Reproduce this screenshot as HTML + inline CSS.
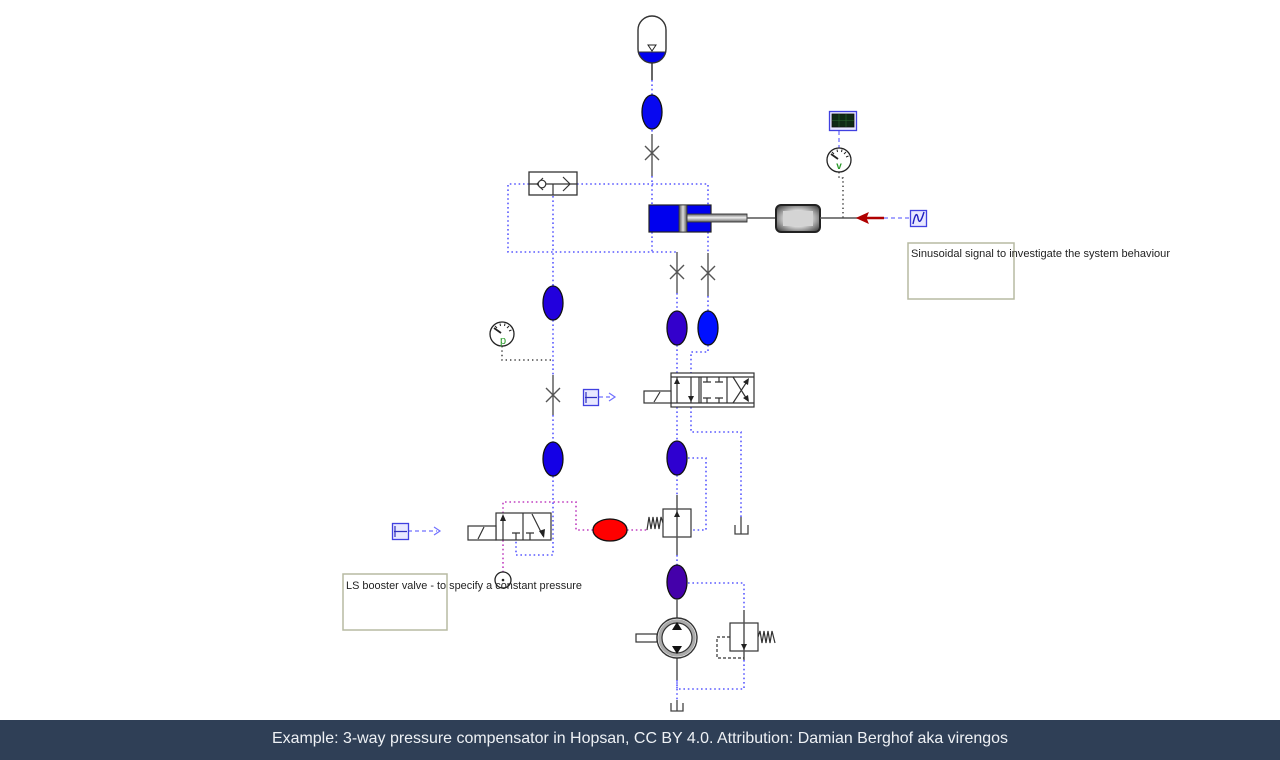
<!DOCTYPE html>
<html><head><meta charset="utf-8"><style>
html,body{margin:0;padding:0;background:#fff;width:1280px;height:760px;overflow:hidden}
svg{display:block}
.footer{position:absolute;left:0;top:720px;width:1280px;height:40px;background:#2f3f56;}
</style></head><body>
<svg width="1280" height="720" viewBox="0 0 1280 720" xmlns="http://www.w3.org/2000/svg" style="position:absolute;left:0;top:0">
<defs>
<linearGradient id="gv" x1="0" y1="0" x2="1" y2="0">
<stop offset="0" stop-color="#555"/><stop offset="0.5" stop-color="#ddd"/><stop offset="1" stop-color="#555"/></linearGradient>
<linearGradient id="gh" x1="0" y1="0" x2="0" y2="1">
<stop offset="0" stop-color="#666"/><stop offset="0.45" stop-color="#eee"/><stop offset="1" stop-color="#666"/></linearGradient>
<radialGradient id="gm" cx="0.5" cy="0.5" r="0.6">
<stop offset="0.5" stop-color="#d8d8d8"/><stop offset="1" stop-color="#555"/></radialGradient>
<clipPath id="acc"><rect x="638" y="16" width="28" height="47" rx="14"/></clipPath>
</defs>
<g fill="none" stroke="#5a5aff" stroke-width="1.6" stroke-dasharray="1.6 2.8">
<!-- top chain -->
<path d="M652 80V95"/>
<path d="M652 130V134"/>
<path d="M652 176V205"/>
<!-- loop -->
<path d="M529 184H508V252H677"/>
<path d="M577 184H708V205"/>
<path d="M652 232V252"/>
<path d="M708 232V252"/>
<path d="M553 196V286"/>
<path d="M553 320V375"/>
<path d="M553 415V442"/>
<path d="M553 476V555H516V535"/>
<!-- right branch -->
<path d="M677 293V311"/>
<path d="M708 296V311"/>
<path d="M677 345V373"/>
<path d="M708 345V352H691V373"/>
<path d="M677 407V441"/>
<path d="M691 407V432H741V517"/>
<path d="M677 475V495"/>
<path d="M688 458H706V530H691"/>
<path d="M677 555V565"/>
<path d="M688 583H744V610"/>
<path d="M744 660V689H677V680"/>
<path d="M677 680V700"/>
</g>
<g fill="none" stroke="#c040c0" stroke-width="1.6" stroke-dasharray="1.6 2.8">
<path d="M627 530H647"/>
<path d="M593 530H576V502H503V513"/>
<path d="M503 540V572"/>
</g>
<g fill="none" stroke="#444" stroke-width="1.5" stroke-dasharray="1.4 3">
<path d="M502 346V360H553"/>
<path d="M839 172V178H843V218"/>
</g>
<!-- signal dashed -->
<g fill="none" stroke="#7070ff" stroke-width="1.3" stroke-dasharray="4 3">
<path d="M839 131V148"/>
<path d="M884 218H910"/>
<path d="M599 397H612"/>
<path d="M408 531H437"/>
</g>
<g fill="none" stroke="#7070ff" stroke-width="1.2">
<path d="M609 393L615 397L609 401"/>
<path d="M434 527L440 531L434 535"/>
</g>

<!-- accumulator -->
<g clip-path="url(#acc)"><rect x="636" y="52" width="32" height="14" fill="#0000ee"/></g>
<rect x="638" y="16" width="28" height="47" rx="14" fill="none" stroke="#333" stroke-width="1.4"/>
<line x1="638" y1="52" x2="666" y2="52" stroke="#333" stroke-width="1"/>
<path d="M648 45H656L652 51Z" fill="#fff" stroke="#222" stroke-width="1"/>
<line x1="652" y1="63" x2="652" y2="80" stroke="#333" stroke-width="1.5"/>

<!-- ellipses (volumes) -->
<g stroke="#111" stroke-width="1.3">
<ellipse cx="652" cy="112" rx="10" ry="17" fill="#0808f0"/>
<ellipse cx="553" cy="303" rx="10" ry="17" fill="#2200dd"/>
<ellipse cx="553" cy="459" rx="10" ry="17" fill="#1400e6"/>
<ellipse cx="677" cy="328" rx="10" ry="17" fill="#3300cc"/>
<ellipse cx="708" cy="328" rx="10" ry="17" fill="#0010ff"/>
<ellipse cx="677" cy="458" rx="10" ry="17" fill="#2e00d0"/>
<ellipse cx="677" cy="582" rx="10" ry="17" fill="#4400aa"/>
<ellipse cx="610" cy="530" rx="17" ry="11" fill="#ff0000"/>
</g>

<!-- orifices (X) -->
<g stroke="#555" stroke-width="1.4" fill="none">
<path d="M652 134V176M645 146L659 160M659 146L645 160"/>
<path d="M677 252V293M670 265L684 279M684 265L670 279"/>
<path d="M708 253V296M701 266L715 280M715 266L701 280"/>
<path d="M553 375V415M546 388L560 402M560 388L546 402"/>
</g>

<!-- check valve -->
<rect x="529" y="172" width="48" height="23" fill="#fff" stroke="#333" stroke-width="1.3"/>
<g stroke="#333" stroke-width="1.2" fill="none">
<path d="M529 184H577"/>
<path d="M553 184V195"/>
<path d="M543 178L537 184L543 190"/>
<path d="M563 177L570 184L563 191"/>
</g>
<circle cx="542" cy="184" r="3.8" fill="#fff" stroke="#333" stroke-width="1.2"/>

<!-- cylinder -->
<rect x="649" y="205" width="62" height="27" fill="#0000ee" stroke="#222" stroke-width="1.2"/>
<rect x="679" y="205" width="8" height="27" fill="url(#gv)" stroke="#333" stroke-width="0.8"/>
<rect x="687" y="214" width="60" height="8" fill="url(#gh)" stroke="#333" stroke-width="0.9"/>
<line x1="747" y1="218" x2="776" y2="218" stroke="#555" stroke-width="1.4"/>
<!-- mass -->
<rect x="776" y="205" width="44" height="27" rx="5" fill="url(#gm)" stroke="#222" stroke-width="2"/>
<rect x="783" y="211" width="30" height="15" fill="#d4d4d4" stroke="none"/>
<line x1="820" y1="218" x2="858" y2="218" stroke="#555" stroke-width="1.4"/>
<!-- red arrow -->
<line x1="862" y1="218" x2="884" y2="218" stroke="#b00000" stroke-width="2.4"/>
<path d="M857 218L868 213L866 218L868 223Z" fill="#b00000" stroke="#b00000"/>
<!-- sine source -->
<rect x="910.5" y="210.5" width="16" height="16" fill="#e8e8ff" stroke="#4040e0" stroke-width="1.3"/>
<path d="M913 224C915 214 917 212 918 218C919 224 921 222 924 212" fill="none" stroke="#2020c0" stroke-width="1.4"/>
<!-- scope -->
<rect x="829.5" y="111.5" width="27" height="19" fill="#e8e8ff" stroke="#4040e0" stroke-width="1.3"/>
<rect x="832" y="114" width="22" height="13" fill="#0f2a14" stroke="#111" stroke-width="0.8"/>
<path d="M832 120.5H854M839 114V127M846 114V127" stroke="#2c6a30" stroke-width="0.6"/>
<!-- gauge V -->
<circle cx="839" cy="160" r="12" fill="#fff" stroke="#222" stroke-width="1.3"/>
<g stroke="#222" stroke-width="1"><path d="M832 152L834 154M837 149.5L837.5 152M842 149.5L841.5 152M846 152L844 154M848.5 156L846 157"/></g>
<path d="M831 154L838 159" stroke="#222" stroke-width="1.8"/>
<text x="839" y="169" font-family="Liberation Sans, sans-serif" font-size="10" font-weight="bold" fill="#2a9a2a" text-anchor="middle">v</text>
<!-- gauge P -->
<circle cx="502" cy="334" r="12" fill="#fff" stroke="#222" stroke-width="1.3"/>
<g stroke="#222" stroke-width="1"><path d="M495 326L497 328M500 323.5L500.5 326M505 323.5L504.5 326M509 326L507 328M511.5 330L509 331"/></g>
<path d="M494 328L501 333" stroke="#222" stroke-width="1.8"/>
<text x="503" y="344" font-family="Liberation Sans, sans-serif" font-size="11" fill="#2a9a2a" text-anchor="middle">p</text>

<!-- step source sources -->
<rect x="583.5" y="389.5" width="15" height="16" fill="#e8e8ff" stroke="#4040e0" stroke-width="1.3"/>
<path d="M585 397.5H597M586 392V403" stroke="#3030c0" stroke-width="1.2"/>
<rect x="392.5" y="523.5" width="16" height="16" fill="#e8e8ff" stroke="#4040e0" stroke-width="1.3"/>
<path d="M394 531.5H407M395 526V537" stroke="#3030c0" stroke-width="1.2"/>

<!-- 4/3 valve -->
<g stroke="#333" stroke-width="1.2" fill="none">
<rect x="671" y="373" width="83" height="34" fill="#fff"/>
<path d="M671 377H754M671 403H754"/>
<path d="M699 377V403M701 377V403M727 377V403"/>
<path d="M677 377V403M691 377V403"/>
<path d="M707 377V382M703 382H711M719 377V382M715 382H723"/>
<path d="M707 403V398M703 398H711M719 403V398M715 398H723"/>
<path d="M733 403L748 380M733 377L748 401"/>
<rect x="644" y="391" width="27" height="12" fill="#fff"/>
<path d="M654 402L660 392"/>
</g>
<g fill="#222">
<path d="M677 378L674 384H680Z"/>
<path d="M691 402L688 396H694Z"/>
<path d="M749 378L743 382L748 385Z"/>
<path d="M749 402L743 398L748 395Z"/>
</g>

<!-- LS valve -->
<g stroke="#333" stroke-width="1.2" fill="none">
<rect x="496" y="513" width="55" height="27" fill="#fff"/>
<path d="M523 513V540"/>
<path d="M503 540V516"/>
<path d="M516 540V533M512 533H520M530 540V533M526 533H534"/>
<path d="M532 514L543 536"/>
<rect x="468" y="526" width="28" height="14" fill="#fff"/>
<path d="M478 539L484 527"/>
</g>
<g fill="#222">
<path d="M503 514L500 521H506Z"/>
<path d="M544 538L539 531L545 529Z"/>
</g>
<circle cx="503" cy="580" r="8" fill="none" stroke="#222" stroke-width="1.3"/>
<circle cx="503" cy="580" r="1.3" fill="#222"/>

<!-- pressure compensator -->
<g stroke="#333" stroke-width="1.2" fill="none">
<rect x="663" y="509" width="28" height="28" fill="#fff"/>
<path d="M677 495V555" stroke="#555" stroke-width="1.5"/>
<path d="M647 530L649 517L651 529L653 517L655 529L657 517L659 529L661 517L663 523"/>
</g>
<path d="M677 511L674 517H680Z" fill="#222"/>

<!-- tank right -->
<g stroke="#444" stroke-width="1.3" fill="none">
<path d="M741 517V534M735 525V534H748V525"/>
<path d="M677 700V711M671 703V711H683V703"/>
</g>

<!-- pump -->
<line x1="677" y1="599" x2="677" y2="618" stroke="#555" stroke-width="1.5"/>
<line x1="677" y1="658" x2="677" y2="680" stroke="#555" stroke-width="1.5"/>
<rect x="636" y="634" width="21" height="8" fill="#fff" stroke="#333" stroke-width="1.2"/>
<circle cx="677" cy="638" r="20" fill="#fff" stroke="#333" stroke-width="1.4"/>
<circle cx="677" cy="638" r="17" fill="none" stroke="#aaa" stroke-width="3.5"/>
<circle cx="677" cy="638" r="15" fill="#fff" stroke="#333" stroke-width="1.2"/>
<path d="M677 622L672 630H682Z" fill="#111"/>
<path d="M677 654L672 646H682Z" fill="#111"/>

<!-- relief valve -->
<g stroke="#333" stroke-width="1.2" fill="none">
<rect x="730" y="623" width="28" height="28" fill="#fff"/>
<path d="M744 610V660" stroke="#555" stroke-width="1.5"/>
<path d="M758 637L760 631L762 643L764 631L766 643L768 631L770 643L772 631L775 643"/>
<path d="M730 637H717V658H744" stroke-dasharray="3 2"/>
</g>
<path d="M744 650L741 644H747Z" fill="#222"/>

<!-- text boxes -->
<rect x="908" y="243" width="106" height="56" fill="none" stroke="#b7baa2" stroke-width="1.5"/>
<text x="911" y="257" font-family="Liberation Sans, sans-serif" font-size="11" fill="#222" textLength="259" lengthAdjust="spacingAndGlyphs">Sinusoidal signal to investigate the system behaviour</text>
<rect x="343" y="574" width="104" height="56" fill="none" stroke="#b7baa2" stroke-width="1.5"/>
<text x="346" y="589" font-family="Liberation Sans, sans-serif" font-size="11" fill="#222" textLength="236" lengthAdjust="spacingAndGlyphs">LS booster valve - to specify a constant pressure</text>
</svg>
<div class="footer">
<svg width="1280" height="40" xmlns="http://www.w3.org/2000/svg" style="display:block">
<text x="640" y="23" font-family="Liberation Sans, sans-serif" font-size="16" fill="#eef1f5" text-anchor="middle" textLength="736" lengthAdjust="spacingAndGlyphs">Example: 3-way pressure compensator in Hopsan, CC BY 4.0. Attribution: Damian Berghof aka virengos</text>
</svg>
</div>
</body></html>
